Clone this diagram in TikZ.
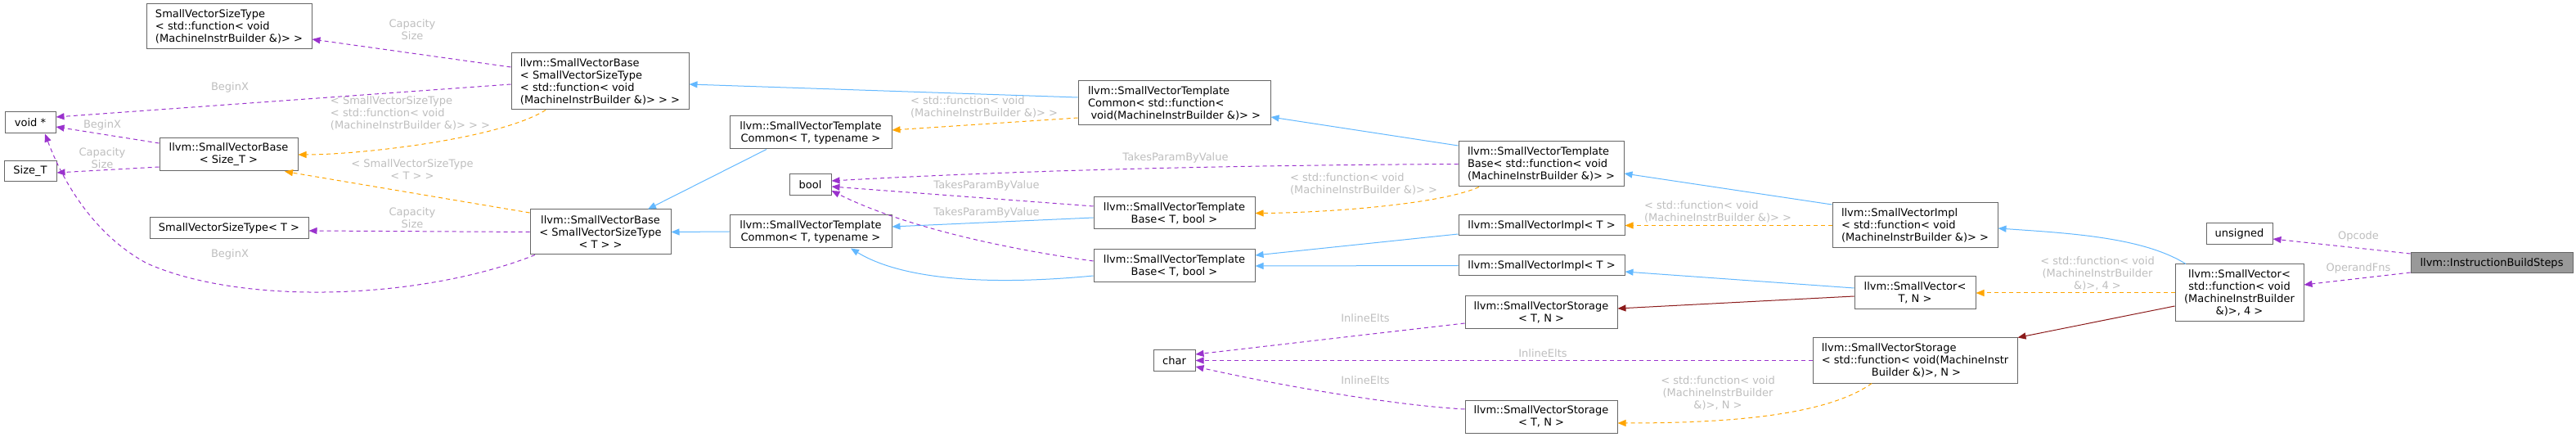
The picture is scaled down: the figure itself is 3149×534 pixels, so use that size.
\documentclass[tikz,border=0pt]{standalone}
\usepackage{fontspec}
\setmainfont{DejaVu Sans}
\usetikzlibrary{arrows.meta}

\definecolor{usecol}{HTML}{9A32CD}
\definecolor{inhcol}{HTML}{63B8FF}
\definecolor{tmplcol}{HTML}{FFA500}
\definecolor{protcol}{HTML}{8B1A1A}
\definecolor{boxgray}{HTML}{666666}
\definecolor{lblgray}{HTML}{BEBEBE}
\definecolor{ibsgray}{HTML}{999999}

\begin{document}
\begin{tikzpicture}[x=1pt,y=-1pt,>={Triangle[length=10pt,width=8pt]},
	cls/.style={draw=boxgray,fill=white,line width=1pt,inner sep=0pt,align=center,font=\fontsize{13}{15}\selectfont},
	lbl/.style={text=lblgray,inner sep=0pt,align=center,font=\fontsize{13}{15}\selectfont},
	usage/.style={->,draw=usecol,line width=1pt,dash pattern=on 5pt off 4pt},
	inherit/.style={->,draw=inhcol,line width=1pt},
	templ/.style={->,draw=tmplcol,line width=1pt,dash pattern=on 5pt off 4pt},
	protinh/.style={->,draw=protcol,line width=1pt}]
		
		\useasboundingbox (0,0) rectangle (3149,534);
		
		\node[cls,minimum width=202pt,minimum height=55pt,align=left] (svstFn) at (280,32.5) {SmallVectorSizeType\\< std::function< void\\(MachineInstrBuilder \&)> >};
		\node[cls,minimum width=62pt,minimum height=26pt] (voidp) at (37,150) {void *};
		\node[cls,minimum width=64pt,minimum height=25pt] (sizeT) at (37,209.5) {Size\_T};
		\node[cls,minimum width=169pt,minimum height=40pt] (svbSizeT) at (279.5,189) {llvm::SmallVectorBase\\< Size\_T >};
		\node[cls,minimum width=194pt,minimum height=26pt] (svstT) at (280,279) {SmallVectorSizeType< T >};
		
		\node[cls,minimum width=217pt,minimum height=69pt,align=left] (svbFn) at (733.5,99.5) {llvm::SmallVectorBase\\< SmallVectorSizeType\\< std::function< void\\(MachineInstrBuilder \&)> > >};
		\node[cls,minimum width=172pt,minimum height=55pt] (svbT) at (734,283.5) {llvm::SmallVectorBase\\< SmallVectorSizeType\\< T > >};
		
		\node[cls,minimum width=198pt,minimum height=40pt] (svtcA) at (991,162) {llvm::SmallVectorTemplate\\Common< T, typename >};
		\node[cls,minimum width=198pt,minimum height=40pt] (svtcB) at (991,283) {llvm::SmallVectorTemplate\\Common< T, typename >};
		\node[cls,minimum width=51pt,minimum height=26pt] (boolT) at (990.5,226) {bool};
		
		\node[cls,minimum width=235pt,minimum height=54pt,align=left] (svtcFn) at (1435.5,126) {llvm::SmallVectorTemplate\\Common< std::function<\\\hspace*{3.5pt}void(MachineInstrBuilder \&)> >};
		\node[cls,minimum width=197pt,minimum height=39pt] (svtbA) at (1435.5,260.5) {llvm::SmallVectorTemplate\\Base< T, bool >};
		\node[cls,minimum width=197pt,minimum height=40pt] (svtbB) at (1435.5,325) {llvm::SmallVectorTemplate\\Base< T, bool >};
		\node[cls,minimum width=51pt,minimum height=25pt] (charT) at (1435.5,440.5) {char};
		
		\node[cls,minimum width=202pt,minimum height=55pt,align=left] (svtbFn) at (1884,200.5) {llvm::SmallVectorTemplate\\Base< std::function< void\\(MachineInstrBuilder \&)> >};
		\node[cls,minimum width=203pt,minimum height=25pt] (sviA) at (1884.5,275.5) {llvm::SmallVectorImpl< T >};
		\node[cls,minimum width=203pt,minimum height=25pt] (sviB) at (1884.5,324.5) {llvm::SmallVectorImpl< T >};
		\node[cls,minimum width=186pt,minimum height=40pt] (svsA) at (1884,382) {llvm::SmallVectorStorage\\< T, N >};
		\node[cls,minimum width=186pt,minimum height=40pt] (svsB) at (1884,509) {llvm::SmallVectorStorage\\< T, N >};
		
		\node[cls,minimum width=202pt,minimum height=55pt,align=left] (sviFn) at (2341,275.5) {llvm::SmallVectorImpl\\< std::function< void\\(MachineInstrBuilder \&)> >};
		\node[cls,minimum width=148pt,minimum height=40pt] (svT) at (2341,358) {llvm::SmallVector<\\T, N >};
		\node[cls,minimum width=250pt,minimum height=55pt,align=left] (svsFn) at (2341,440.5) {llvm::SmallVectorStorage\\< std::function< void(MachineInstr\\\hspace*{61pt}Builder \&)>, N >};
		
		\node[cls,minimum width=81pt,minimum height=26pt] (unsignedT) at (2737.5,286) {unsigned};
		\node[cls,minimum width=157pt,minimum height=70pt] (svFn) at (2737.5,358) {llvm::SmallVector<\\std::function< void\\(MachineInstrBuilder\\\&)>, 4 >};
		\node[cls,fill=ibsgray,minimum width=198pt,minimum height=25pt] (ibs) at (3046,321.5) {llvm::InstructionBuildSteps};
		
		\node[lbl] (lSizeA) at (504,36.5) {Capacity\\Size};
		\node[lbl] (lBeginA) at (281,107) {BeginX};
		\node[lbl,align=left] (lTmplA) at (501.5,138.5) {< SmallVectorSizeType\\< std::function< void\\(MachineInstrBuilder \&)> > >};
		\node[lbl] (lBeginB) at (125,153) {BeginX};
		\node[lbl] (lSizeB) at (125,193) {Capacity\\Size};
		\node[lbl] (lTmplB) at (504,207.5) {< SmallVectorSizeType\\< T > >};
		\node[lbl] (lSizeC) at (504,266) {Capacity\\Size};
		\node[lbl] (lBeginC) at (281,311) {BeginX};
		\node[lbl,align=left] (lTmplC) at (1203,131) {< std::function< void\\(MachineInstrBuilder \&)> >};
		\node[lbl] (lTakesA) at (1437,193) {TakesParamByValue};
		\node[lbl] (lTakesB) at (1206,227) {TakesParamByValue};
		\node[lbl] (lTakesC) at (1206,260) {TakesParamByValue};
		\node[lbl,align=left] (lTmplD) at (1667,224.5) {< std::function< void\\(MachineInstrBuilder \&)> >};
		\node[lbl,align=left] (lTmplE) at (2100,259) {< std::function< void\\(MachineInstrBuilder \&)> >};
		\node[lbl] (lInlA) at (1669,389) {InlineElts};
		\node[lbl] (lInlB) at (1886,432) {InlineElts};
		\node[lbl] (lInlC) at (1669,465) {InlineElts};
		\node[lbl] (lTmplF) at (2100,480) {< std::function< void\\(MachineInstrBuilder\\\&)>, N >};
		\node[lbl] (lTmplG) at (2564,334) {< std::function< void\\(MachineInstrBuilder\\\&)>, 4 >};
		\node[lbl] (lOpcode) at (2883,289) {Opcode};
		\node[lbl] (lOperand) at (2883,328) {OperandFns};
		
		\draw[usage] ([yshift=17.5pt]svbFn.west) -- ([yshift=-15.5pt]svstFn.east);
		\draw[usage] ([yshift=-3.5pt]svbFn.west) -- ([yshift=7pt]voidp.east);
		\draw[templ] ([xshift=-66.5pt]svbFn.south) .. controls (610,170) and (440,189) .. (svbSizeT.east);
		\draw[usage] ([yshift=14pt]svbSizeT.west) -- ([yshift=-5pt]voidp.east);
		\draw[usage] ([yshift=-15pt]svbSizeT.west) -- ([yshift=-1.5pt]sizeT.east);
		\draw[templ] ([yshift=23.5pt]svbT.west) -- ([xshift=68.5pt]svbSizeT.south);
		\draw[usage] (svbT.west) -- ([yshift=-3pt]svstT.east);
		\draw[usage] ([xshift=-80pt]svbT.south) .. controls (520,365) and (300,375) .. (180,322)
		.. controls (120,290) and (80,230) .. ([xshift=18pt]voidp.south);
		
		\draw[inherit] ([xshift=-54pt]svtcA.south) -- ([xshift=58pt]svbT.north);
		\draw[inherit] (svtcB.west) -- (svbT.east);
		\draw[inherit] ([yshift=7pt]svtcFn.west) -- ([yshift=-3.5pt]svbFn.east);
		\draw[templ] ([yshift=-18pt]svtcFn.west) -- ([yshift=3pt]svtcA.east);
		
		\draw[inherit] ([yshift=22.5pt]svtbFn.west) -- ([yshift=-17pt]svtcFn.east);
		\draw[usage] (svtbFn.west) .. controls (1500,202) and (1250,208) .. ([yshift=5pt]boolT.east);
		\draw[templ] ([xshift=-76pt]svtbFn.south) .. controls (1760,250) and (1620,260) .. (svtbA.east);
		\draw[usage] ([yshift=8.5pt]svtbA.west) -- ([yshift=-2pt]boolT.east);
		\draw[inherit] ([yshift=-5.5pt]svtbA.west) -- ([yshift=6pt]svtcB.east);
		\draw[usage] ([yshift=6pt]svtbB.west) .. controls (1200,300) and (1090,270) .. ([yshift=-7pt]boolT.east);
		\draw[inherit] ([yshift=-12pt]svtbB.west) .. controls (1200,350) and (1100,340) .. ([xshift=49pt]svtcB.south);
		
		\draw[inherit] ([yshift=-10.5pt]sviA.west) -- ([yshift=13pt]svtbB.east);
		\draw[inherit] (sviB.west) -- (svtbB.east);
		\draw[inherit] ([yshift=25.5pt]sviFn.west) -- ([yshift=-11.5pt]svtbFn.east);
		\draw[templ] (sviFn.west) -- (sviA.east);
		\draw[inherit] ([yshift=6pt]svT.west) -- ([yshift=-7.5pt]sviB.east);
		\draw[protinh] ([yshift=-4pt]svT.west) -- ([yshift=5pt]svsA.east);
		
		\draw[usage] ([yshift=-13pt]svsA.west) -- ([yshift=7.5pt]charT.east);
		\draw[usage] (svsFn.west) -- (charT.east);
		\draw[usage] ([yshift=9pt]svsB.west) .. controls (1700,495) and (1560,470) .. ([yshift=-7.5pt]charT.east);
		\draw[templ] ([xshift=-53pt]svsFn.south) .. controls (2230,510) and (2100,517) .. ([yshift=-8pt]svsB.east);
		
		\draw[inherit] ([xshift=-65.5pt]svFn.north) .. controls (2620,290) and (2530,285) .. ([yshift=-3.5pt]sviFn.east);
		\draw[templ] (svFn.west) -- (svT.east);
		\draw[protinh] ([yshift=-16pt]svFn.west) -- (svsFn.north east);
		\draw[usage] ([yshift=11.5pt]ibs.west) -- ([yshift=-6pt]unsignedT.east);
		\draw[usage] ([yshift=-11.5pt]ibs.west) -- ([yshift=10pt]svFn.east);
	\end{tikzpicture}
\end{document}
